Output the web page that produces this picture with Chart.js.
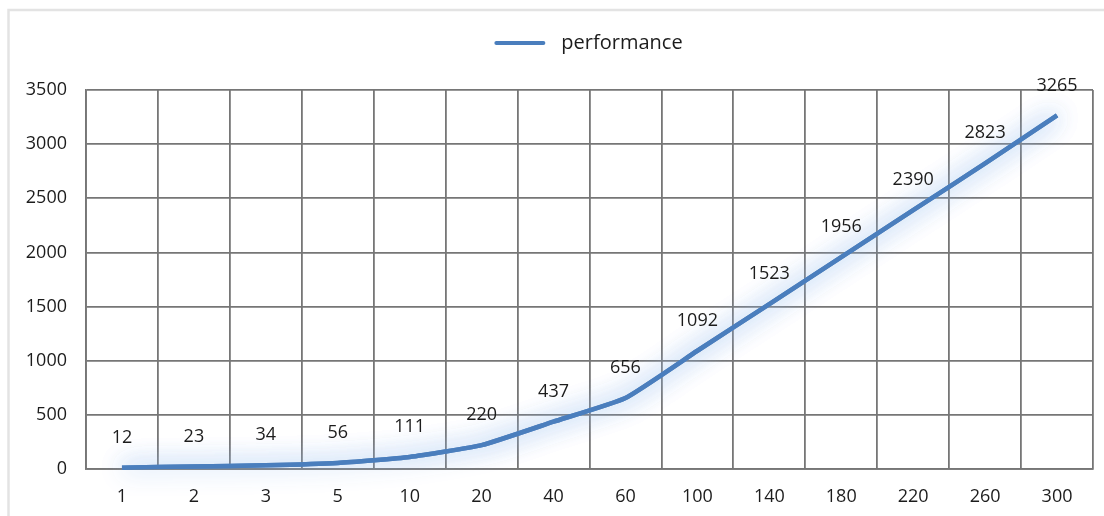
<!DOCTYPE html>
<html>
<head>
<meta charset="utf-8">
<script src="https://cdn.jsdelivr.net/npm/chart.js@4"></script>
<style>
  html, body { margin: 0; padding: 0; background: #fff; }
  #wrap { position: relative; width: 1104px; height: 516px; }
</style>
</head>
<body>
<div id="wrap"><canvas id="c" width="1104" height="516"></canvas></div>
<script>
// Batch sizes along the x axis and measured throughput for each
const categories = ['1', '2', '3', '5', '10', '20', '40', '60', '100', '140', '180', '220', '260', '300'];
const performance = [12, 23, 34, 56, 111, 220, 437, 656, 1092, 1523, 1956, 2390, 2823, 3265];
const seriesName = 'performance';
const yMin = 0, yMax = 3500, yStep = 500;

const LINE_BLUE = '#4a7ebd';
const GRID = '#767676';
const TEXT = '#1c1c1c';
const FONT = "'Open Sans', 'Noto Sans', sans-serif";

// Light outer frame around the whole chart
const framePlugin = {
  id: 'frame',
  beforeDraw(chart) {
    const ctx = chart.ctx;
    ctx.save();
    ctx.fillStyle = '#fff';
    ctx.fillRect(0, 0, chart.width, chart.height);
    ctx.strokeStyle = '#e3e3e3';
    ctx.lineWidth = 2.5;
    ctx.strokeRect(8.5, 10, chart.width + 20, chart.height + 20);
    ctx.restore();
  }
};

// Soft pale-blue halo behind the line (stroked twice so the halo is denser)
const glowPlugin = {
  id: 'glow',
  beforeDatasetDraw(chart) {
    const ctx = chart.ctx;
    ctx.save();
    ctx.shadowColor = 'rgba(150, 188, 238, 0.9)';
    ctx.shadowBlur = 24;
  },
  afterDatasetDraw(chart, args) {
    const ctx = chart.ctx;
    args.meta.dataset.draw(ctx, chart.chartArea);
    ctx.restore();
  }
};

// Value labels above each point
const valueLabelPlugin = {
  id: 'valueLabels',
  afterDatasetsDraw(chart) {
    const ctx = chart.ctx;
    const meta = chart.getDatasetMeta(0);
    const data = chart.data.datasets[0].data;
    ctx.save();
    ctx.font = '18px ' + FONT;
    ctx.fillStyle = TEXT;
    ctx.textAlign = 'center';
    ctx.textBaseline = 'middle';
    meta.data.forEach((pt, i) => {
      ctx.fillText(String(data[i]), pt.x, pt.y - 30);
    });
    ctx.restore();
  }
};

// Legend: line sample followed by the series name, centred over the plot
const legendPlugin = {
  id: 'lineLegend',
  afterDraw(chart) {
    const ctx = chart.ctx;
    const area = chart.chartArea;
    ctx.save();
    ctx.font = '20px ' + FONT;
    const tw = ctx.measureText(seriesName).width;
    const sample = 47, gap = 18;
    const total = sample + gap + tw;
    const x0 = (area.left + area.right) / 2 - total / 2;
    const y = 43;
    ctx.strokeStyle = LINE_BLUE;
    ctx.lineWidth = 4;
    ctx.lineCap = 'round';
    ctx.beginPath();
    ctx.moveTo(x0, y);
    ctx.lineTo(x0 + sample, y);
    ctx.stroke();
    ctx.fillStyle = TEXT;
    ctx.textAlign = 'left';
    ctx.textBaseline = 'middle';
    ctx.fillText(seriesName, x0 + sample + gap, y);
    ctx.restore();
  }
};

new Chart(document.getElementById('c'), {
  type: 'line',
  data: {
    labels: categories,
    datasets: [{
      label: seriesName,
      data: performance,
      borderColor: LINE_BLUE,
      borderWidth: 4.5,
      pointRadius: 0,
      pointHoverRadius: 0,
      tension: 0.15,
      fill: false
    }]
  },
  options: {
    responsive: false,
    animation: false,
    devicePixelRatio: 1,
    layout: { padding: { top: 90, right: 11, bottom: 0, left: 0 } },
    plugins: {
      legend: { display: false },
      tooltip: { enabled: false }
    },
    scales: {
      x: {
        offset: true,
        grid: { offset: true, color: GRID, lineWidth: 1.8, drawTicks: false },
        border: { color: GRID, width: 1.8 },
        ticks: { color: TEXT, font: { family: FONT, size: 18 }, padding: 17, maxRotation: 0, autoSkip: false },
        afterFit(s) { s.height = 47; }
      },
      y: {
        min: yMin,
        max: yMax,
        ticks: {
          stepSize: yStep,
          color: TEXT,
          font: { family: FONT, size: 18 },
          padding: 19,
          callback: (v) => String(v)
        },
        grid: { color: GRID, lineWidth: 1.8, drawTicks: false },
        border: { color: GRID, width: 1.8 },
        afterFit(s) { s.width = 86; }
      }
    }
  },
  plugins: [framePlugin, glowPlugin, valueLabelPlugin, legendPlugin]
});
</script>
</body>
</html>
